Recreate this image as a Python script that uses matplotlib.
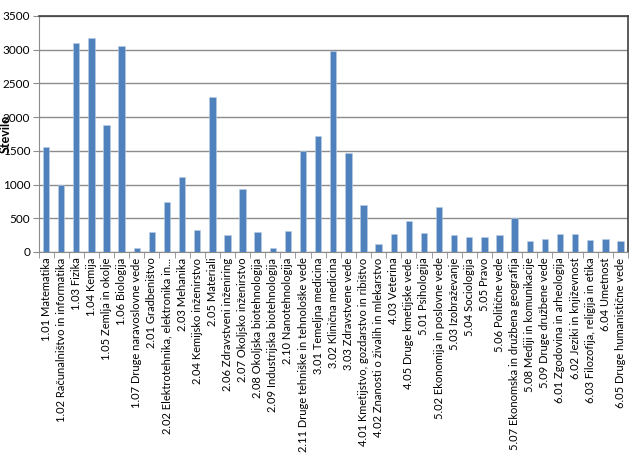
import matplotlib
matplotlib.use('Agg')
from matplotlib import pyplot as plt
import numpy as np

categories = [
    '1.01 Matematika', '1.02 Računalništvo in informatika', '1.03 Fizika',
    '1.04 Kemija', '1.05 Zemlja in okolje', '1.06 Biologija',
    '1.07 Druge naravoslovne vede', '2.01 Gradbeništvo',
    '2.02 Elektrotehnika, elektronika in...', '2.03 Mehanika',
    '2.04 Kemijsko inženirstvo', '2.05 Materiali',
    '2.06 Zdravstveni inženiring', '2.07 Okoljsko inženirstvo',
    '2.08 Okoljska biotehnologija', '2.09 Industrijska biotehnologija',
    '2.10 Nanotehnologija', '2.11 Druge tehniške in tehnološke vede',
    '3.01 Temeljna medicina', '3.02 Klinična medicina',
    '3.03 Zdravstvene vede', '4.01 Kmetijstvo, gozdarstvo in ribištvo',
    '4.02 Znanosti o živalih in mlekarstvo', '4.03 Veterina',
    '4.05 Druge kmetijske vede', '5.01 Psihologija',
    '5.02 Ekonomija in poslovne vede', '5.03 Izobraževanje',
    '5.04 Sociologija', '5.05 Pravo', '5.06 Politične vede',
    '5.07 Ekonomska in družbena geografija', '5.08 Mediji in komunikacije',
    '5.09 Druge družbene vede', '6.01 Zgodovina in arheologija',
    '6.02 Jeziki in književnost', '6.03 Filozofija, religija in etika',
    '6.04 Umetnost', '6.05 Druge humanistične vede',
]
counts = [
    1564, 990, 3094, 3178, 1886, 3054, 64, 292, 743, 1119,
    332, 2302, 252, 931, 292, 64, 312, 1500, 1723, 2975,
    1475, 698, 119, 262, 465, 282, 668, 252, 218, 218,
    248, 510, 158, 193, 272, 267, 183, 193, 158,
]
yticks = [0, 500, 1000, 1500, 2000, 2500, 3000, 3500]

plt.rcParams['font.family'] = ['Lato', 'DejaVu Sans']

fig = plt.figure(figsize=(6.3, 4.66), dpi=100)
ax = fig.add_axes([38.5 / 630, 1 - 252 / 466, (628 - 38.5) / 630, (252 - 16) / 466])

x = np.arange(len(categories))
ax.bar(x, counts, width=0.42, color='#4F81BD', edgecolor='#B9CDE5', linewidth=0.4, zorder=3)

ax.set_xlim(-0.5, len(categories) - 0.5)
ax.set_ylim(0, 3500)
ax.set_yticks(yticks)
ax.set_yticklabels([str(v) for v in yticks], fontsize=8.5)
ax.yaxis.grid(True, color='#8C8C8C', linewidth=1, zorder=0)

ax.set_xticks(x)
ax.set_xticklabels(categories, rotation=90, fontsize=8.0)
ax.tick_params(axis='x', length=0, pad=4)
ax.set_xticks(np.arange(len(categories) + 1) - 0.5, minor=True)
ax.tick_params(axis='x', which='minor', length=4, color='#8C8C8C', direction='out')
ax.tick_params(axis='y', length=4, color='#8C8C8C', direction='out', pad=2)

for side in ['left', 'bottom']:
    ax.spines[side].set_color('#8C8C8C')
for side in ['top', 'right']:
    ax.spines[side].set_color('#404040')
    ax.spines[side].set_linewidth(1.2)

# label sits over the tick labels, as in the original
ax.set_ylabel('Število', fontsize=9, fontweight='bold')
ax.yaxis.set_label_coords(-0.045, 0.5)

fig.savefig('out.png', dpi=100)
